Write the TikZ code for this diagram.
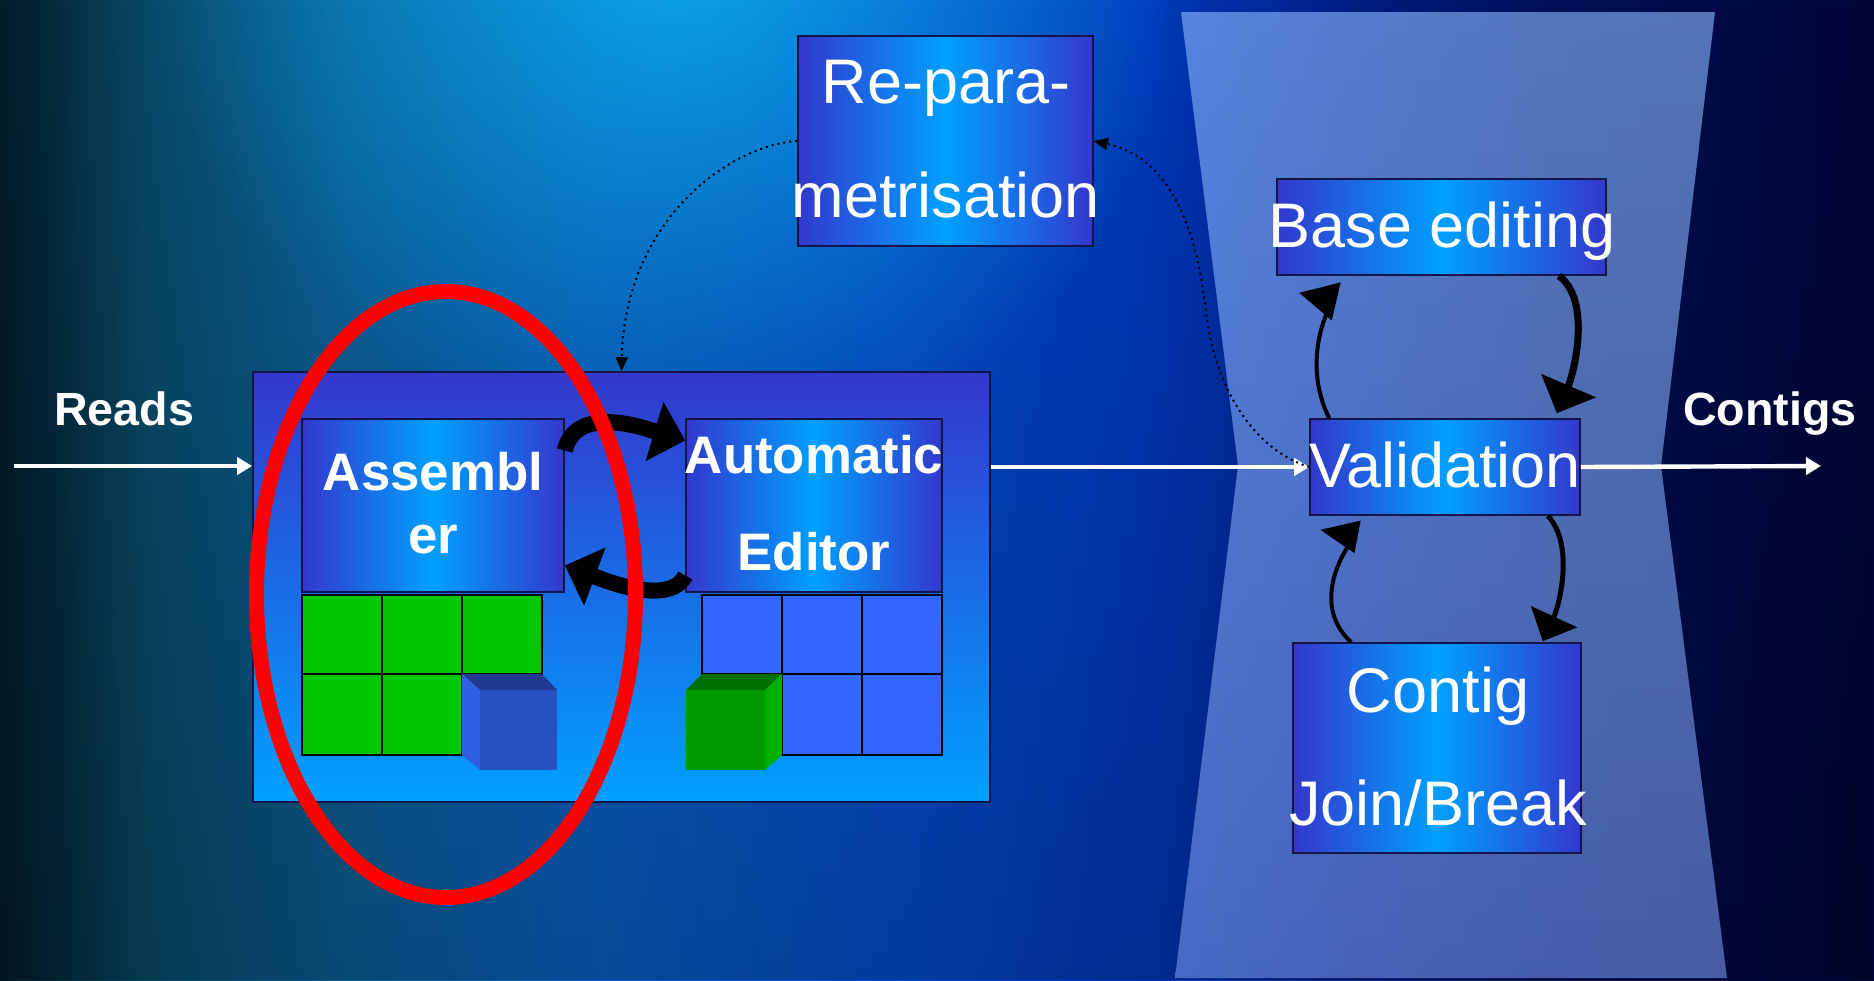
\documentclass[tikz,border=0pt]{standalone}
\usepackage{fontspec}
\setmainfont{Liberation Sans}
\usetikzlibrary{arrows.meta,calc,fadings}

\definecolor{bedge}{RGB}{51,56,204}
\definecolor{bmid}{RGB}{0,160,255}
\definecolor{bordercol}{RGB}{20,20,70}
\definecolor{gcell}{RGB}{0,200,0}
\definecolor{bcell}{RGB}{51,102,255}
\definecolor{bcubefront}{RGB}{40,80,192}
\definecolor{bcubetop}{RGB}{32,58,144}
\definecolor{bcubeside}{RGB}{48,96,224}
\definecolor{gcubefront}{RGB}{0,153,0}
\definecolor{gcubetop}{RGB}{0,112,0}
\definecolor{gcubeside}{RGB}{0,176,0}
\definecolor{hgtop}{RGB}{140,188,255}
\definecolor{hgbot}{RGB}{118,150,240}
\definecolor{glowc}{RGB}{12,172,232}
\definecolor{bg0}{RGB}{3,28,40}
\definecolor{bga}{RGB}{5,45,65}
\definecolor{bg1}{RGB}{8,75,105}
\definecolor{bg2}{RGB}{10,95,150}
\definecolor{bg3}{RGB}{8,95,195}
\definecolor{bg4}{RGB}{5,78,205}
\definecolor{bg5}{RGB}{0,56,185}
\definecolor{bg6}{RGB}{0,30,132}
\definecolor{bg7}{RGB}{0,15,85}
\definecolor{bg8}{RGB}{0,6,55}

\pgfdeclarehorizontalshading{boxsh}{100bp}{color(0bp)=(bedge); color(25bp)=(bedge); color(50bp)=(bmid); color(75bp)=(bedge); color(100bp)=(bedge)}
\pgfdeclarehorizontalshading{bgsh}{100bp}{color(0bp)=(bg0); color(25bp)=(bg0); color(26.6bp)=(bga); color(29bp)=(bg1); color(34.3bp)=(bg2); color(41bp)=(bg3); color(49bp)=(bg4); color(55.7bp)=(bg5); color(61bp)=(bg6); color(66.4bp)=(bg7); color(75bp)=(bg8); color(100bp)=(bg8)}

\tikzfading[name=glowfade, inner color=transparent!0, outer color=transparent!100]
\tikzfading[name=downfade, top color=transparent!100, bottom color=transparent!78]

\tikzset{
  box/.style={draw=bordercol, line width=0.8pt, shading=boxsh, inner sep=0pt},
  lbl/.style={text=white, inner sep=0pt, anchor=base},
  regtxt/.style={font=\fontsize{31.5}{36}\selectfont},
  bldtxt/.style={font=\bfseries\fontsize{26.4}{30}\selectfont},
  labtxt/.style={font=\bfseries\fontsize{23.3}{28}\selectfont},
  cell/.style={draw=black, line width=0.6pt},
  whitearrow/.style={draw=white, line width=2.2pt, -{Triangle[length=7.5pt,width=8.5pt]}},
  dotarrow/.style={draw=black, line width=1pt, dotted, -{Triangle[length=7pt,width=6pt]}},
  bigarc/.style={draw=black, line width=8pt, -{Triangle[length=16pt,width=30pt]}},
}

\begin{document}
\begin{tikzpicture}[x=0.5pt,y=-0.5pt]
% background
\shade[shading=bgsh] (0,0) rectangle (1874,980);
\useasboundingbox (0,0) rectangle (1874,980);
\fill[glowc, path fading=glowfade, fill opacity=0.9] (680,-40) ellipse [x radius=260pt, y radius=250pt];
\fill[black, path fading=downfade] (0,0) rectangle (1874,980);

% hourglass
\shade[top color=hgtop, bottom color=hgbot, opacity=0.6] (1181,12) -- (1715,12) -- (1661,466) -- (1727,978) -- (1175,978) -- (1238,466) -- cycle;

% boxes on the right and top
\node[box, minimum width=147.5pt, minimum height=105pt] (repar) at (945.5,141) {};
\node[box, minimum width=164.5pt, minimum height=48pt] (base) at (1441.5,227) {};
\node[box, minimum width=135pt, minimum height=48pt] (val) at (1445,467) {};
\node[box, minimum width=144pt, minimum height=105pt] (cj) at (1437,748) {};

% big container
\node[draw=bordercol, line width=0.8pt, top color=bedge, bottom color=bmid, inner sep=0pt, minimum width=368.5pt, minimum height=215pt] (big) at (621.5,587) {};
\node[box, minimum width=131pt, minimum height=86.5pt] (asm) at (433,505.5) {};
\node[box, minimum width=128pt, minimum height=86.5pt] (ed) at (814,505.5) {};

% green grid
\foreach \xa/\xb in {302/382,382/462,462/542} {\draw[cell, fill=gcell] (\xa,595) rectangle (\xb,674);}
\foreach \xa/\xb in {302/382,382/462} {\draw[cell, fill=gcell] (\xa,674) rectangle (\xb,755);}
% blue cube
\fill[bcubetop] (462,674) -- (542,674) -- (557,690) -- (480,690) -- cycle;
\fill[bcubeside] (462,674) -- (480,690) -- (480,770) -- (462,755) -- cycle;
\fill[bcubefront] (480,690) rectangle (557,770);

% blue grid
\foreach \xa/\xb in {702/782,782/862,862/942} {\draw[cell, fill=bcell] (\xa,595) rectangle (\xb,674);}
\foreach \xa/\xb in {782/862,862/942} {\draw[cell, fill=bcell] (\xa,674) rectangle (\xb,755);}
% green cube
\fill[gcubetop] (702,674) -- (782,674) -- (765,690) -- (686,690) -- cycle;
\fill[gcubeside] (782,674) -- (782,755) -- (765,770) -- (765,690) -- cycle;
\fill[gcubefront] (686,690) rectangle (765,770);

% white arrows
\coordinate (rstart) at (14,466);
\coordinate (cend) at (1821,466);
\draw[whitearrow] (rstart) -- (rstart -| big.west);
\draw[whitearrow] (val.west -| big.east) -- (val.west);
\draw[whitearrow] (val.east) -- (cend);

% dotted arrows
\draw[dotarrow] (repar.west) .. controls (730,145) and (625,220) .. (big.north);
\draw[dotarrow] (val.west) .. controls (1255,450) and (1215,390) .. (1206,312) .. controls (1199,250) and (1180,160) .. (repar.east);

% thick arcs between assembler and editor
\draw[bigarc] ($(asm.east)+(0,-55)$) .. controls (576,402) and (650,430) .. ($(ed.west)+(0,-65)$);
\draw[bigarc] ($(ed.west)+(0,70)$) .. controls (670,607) and (604,580) .. ($(asm.east)+(0,60)$);

% arrows around validation
\draw[line width=2pt, -{Triangle[length=19pt,width=19pt]}] ($(val.north west)+(20,0)$) .. controls (1300,360) and (1330,300) .. ($(base.south west)+(23,17)$);
\draw[line width=3.5pt, -{Triangle[length=15pt,width=29pt]}] ($(base.south east)+(-48,0)$) .. controls (1592,300) and (1574,373) .. ($(val.north east)+(-24,-5)$);
\draw[line width=2pt, -{Triangle[length=19pt,width=16pt]}] ($(cj.north west)+(59,0)$) .. controls (1305,600) and (1353,536) .. ($(val.south west)+(11,14)$);
\draw[line width=2.5pt, -{Triangle[length=13.5pt,width=25pt]}] ($(val.south east)+(-33,0)$) .. controls (1575,545) and (1559,606) .. ($(cj.north east)+(-39,-1)$);

% red ellipse
\draw[red, line width=7.5pt] (446,594.5) ellipse [x radius=94.75pt, y radius=151.5pt];

% texts
\node[lbl, regtxt] (trp1) at (946,103) {Re-para-};
\node[lbl, regtxt] (trp2) at (946,217) {metrisation};
\node[lbl, bldtxt] (tas1) at (433,490) {Assembl};
\node[lbl, bldtxt] (tas2) at (433,553) {er};
\node[lbl, bldtxt] (ted1) at (814,473) {Automatic};
\node[lbl, bldtxt] (ted2) at (814,570) {Editor};
\node[lbl, regtxt] (tbe) at (1442,247) {Base editing};
\node[lbl, regtxt] (tva) at (1445,487) {Validation};
\node[lbl, regtxt] (tcj1) at (1438,712) {Contig};
\node[lbl, regtxt] (tcj2) at (1438,825) {Join/Break};
\node[lbl, labtxt] (trd) at (124,425) {Reads};
\node[lbl, labtxt] (tco) at (1770,425) {Contigs};
\end{tikzpicture}
\end{document}
